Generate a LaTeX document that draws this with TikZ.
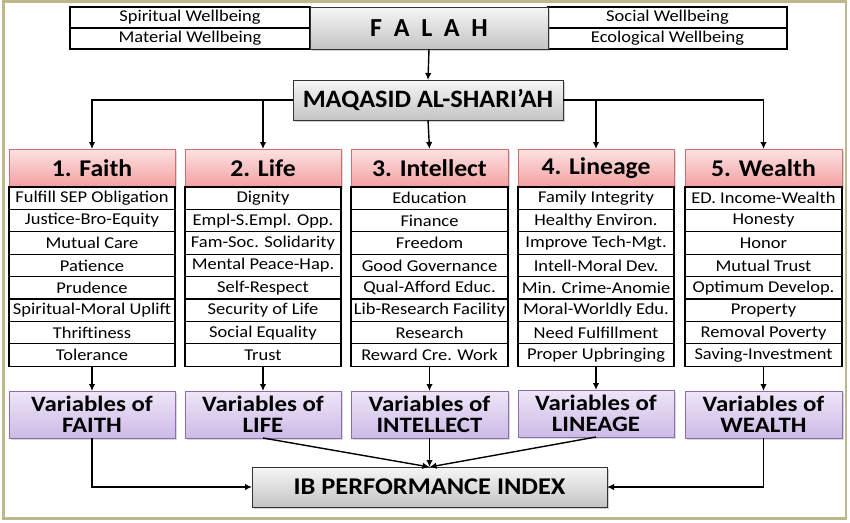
\documentclass[tikz,border=0pt]{standalone}
\usepackage{fontspec}
\setmainfont{Carlito}
\newfontfamily\itemfont[FakeStretch=1.12]{Carlito}
\newfontfamily\headfont[FakeStretch=1.07]{Carlito}
\newfontfamily\varfont[FakeStretch=1.13]{Carlito}
\newfontfamily\maqfont[FakeStretch=1.05]{Carlito}
\newfontfamily\ibfont[FakeStretch=1.1]{Carlito}
\usetikzlibrary{arrows.meta,shadows}
\definecolor{frame}{RGB}{190,182,140}
\definecolor{headtop}{RGB}{252,226,226}
\definecolor{headbot}{RGB}{242,160,160}
\definecolor{headline}{RGB}{205,110,110}
\definecolor{vartop}{RGB}{238,230,248}
\definecolor{varbot}{RGB}{204,186,230}
\definecolor{varline}{RGB}{140,110,175}
\definecolor{graytop}{RGB}{246,246,246}
\definecolor{graybot}{RGB}{196,196,196}
\tikzset{
  every node/.style={inner sep=0pt, outer sep=0pt},
  cellbox/.style={draw=black, line width=1.1pt, fill=white, font=\itemfont\fontsize{16.5}{17}\selectfont},
  headbox/.style={draw=headline, line width=0.9pt, top color=headtop, bottom color=headbot,
     font=\headfont\fontsize{24}{25}\selectfont\bfseries,
     drop shadow={shadow xshift=1.5pt, shadow yshift=-1.5pt, opacity=0.3, fill=gray}},
  varbox/.style={draw=varline, line width=0.9pt, top color=vartop, bottom color=varbot,
     align=center, font=\varfont\fontsize{22}{21.5}\selectfont\bfseries,
     drop shadow={shadow xshift=1.5pt, shadow yshift=-1.5pt, opacity=0.3, fill=gray}},
  graybox/.style={draw=black!80, line width=1pt, top color=graytop, bottom color=graybot,
     drop shadow={shadow xshift=2pt, shadow yshift=-2pt, opacity=0.35, fill=gray}},
  conn/.style={line width=1.4pt, -{Latex[length=7pt,width=6.5pt]}},
}
\begin{document}
\begin{tikzpicture}[x=1pt,y=-1pt]
\useasboundingbox (0,0) rectangle (850,522);
\draw[frame, line width=2.2pt] (3.5,1.5) rectangle (846,518.5);

% top row
\node[cellbox, minimum width=240pt, minimum height=21pt] (sw) at (190,17.5) {Spiritual Wellbeing};
\node[cellbox, minimum width=240pt, minimum height=21pt] (mw) at (190,38.5) {Material Wellbeing};
\node[cellbox, minimum width=239pt, minimum height=21pt] (sow) at (667.5,17.5) {Social Wellbeing};
\node[cellbox, minimum width=239pt, minimum height=21pt] (ew) at (667.5,38.5) {Ecological Wellbeing};
\node[graybox, minimum width=238pt, minimum height=42pt, font=\fontsize{26}{27}\selectfont\bfseries] (falah) at (429,28)
  {F\hspace{0.45em}A\hspace{0.45em}L\hspace{0.45em}A\hspace{0.45em}H};

\node[graybox, minimum width=270pt, minimum height=40pt, font=\maqfont\fontsize{25}{26}\selectfont\bfseries] (maq) at (428,100) {MAQASID AL-SHARI’AH};

% headings
\node[headbox, minimum width=166pt, minimum height=38pt] (h1) at (92,168) {1. Faith};
\node[headbox, minimum width=156pt, minimum height=38pt] (h2) at (263,168) {2. Life};
\node[headbox, minimum width=157pt, minimum height=38pt] (h3) at (429.5,168) {3. Intellect};
\node[headbox, minimum width=156pt, minimum height=38pt] (h4) at (596,168) {4. Lineage};
\node[headbox, minimum width=157pt, minimum height=38pt] (h5) at (763.5,168) {5. Wealth};

% items
\foreach \t [count=\i from 0] in {Fulfill SEP Obligation,Justice-Bro-Equity,Mutual Care,Patience,Prudence,Spiritual-Moral Uplift,Thriftiness,Tolerance}
  \node[cellbox, minimum width=166pt, minimum height=22.4pt] (a\i) at (92,198.2+22.4*\i) {\t};
\foreach \t [count=\i from 0] in {Dignity,Empl-S.Empl. Opp.,Fam-Soc. Solidarity,Mental Peace-Hap.,Self-Respect,Security of Life,Social Equality,Trust}
  \node[cellbox, minimum width=156pt, minimum height=22.4pt] (b\i) at (263,198.2+22.4*\i) {\t};
\foreach \t [count=\i from 0] in {Education,Finance,Freedom,Good Governance,Qual-Afford Educ.,Lib-Research Facility,Research,Reward Cre. Work}
  \node[cellbox, minimum width=157pt, minimum height=22.4pt] (c\i) at (429.5,198.2+22.4*\i) {\t};
\foreach \t [count=\i from 0] in {Family Integrity,Healthy Environ.,Improve Tech-Mgt.,Intell-Moral Dev.,Min. Crime-Anomie,Moral-Worldly Edu.,Need Fulfillment,Proper Upbringing}
  \node[cellbox, minimum width=156pt, minimum height=22.4pt] (d\i) at (596,198.2+22.4*\i) {\t};
\foreach \t [count=\i from 0] in {ED. Income-Wealth,Honesty,Honor,Mutual Trust,Optimum Develop.,Property,Removal Poverty,Saving-Investment}
  \node[cellbox, minimum width=157pt, minimum height=22.4pt] (e\i) at (763.5,198.2+22.4*\i) {\t};

% variables
\node[varbox, minimum width=166pt, minimum height=47pt] (v1) at (92,414.5) {Variables of\\FAITH};
\node[varbox, minimum width=156pt, minimum height=47pt] (v2) at (263,414.5) {Variables of\\LIFE};
\node[varbox, minimum width=157pt, minimum height=47pt] (v3) at (429.5,414.5) {Variables of\\INTELLECT};
\node[varbox, minimum width=156pt, minimum height=47pt] (v4) at (596,413.5) {Variables of\\LINEAGE};
\node[varbox, minimum width=157pt, minimum height=47pt] (v5) at (763.5,414.5) {Variables of\\WEALTH};

\node[graybox, minimum width=355pt, minimum height=40pt, font=\ibfont\fontsize{24}{25}\selectfont\bfseries] (ib) at (429.5,487) {IB PERFORMANCE INDEX};

% connectors
\draw[conn] (falah.south) -- (maq.north);
\draw[conn] (maq.west) -| (h1.north);
\draw[conn] (h2.north |- maq.west) -- (h2.north);
\draw[conn] (maq.south) -- (h3.north);
\draw[conn] (maq.east) -| (h5.north);
\draw[conn] (h4.north |- maq.east) -- (h4.north);

\draw[conn] (a7.south) -- (v1.north);
\draw[conn] (b7.south) -- (v2.north);
\draw[conn] (c7.south) -- (v3.north);
\draw[conn] (d7.south) -- (v4.north);
\draw[conn] (e7.south) -- (v5.north);

\draw[conn] (v1.south) |- (ib.west);
\draw[conn] (v5.south) |- (ib.east);
\draw[conn] (v2.south) -- (ib.north);
\draw[conn] (v3.south) -- (ib.north);
\draw[conn] (v4.south) -- (ib.north);
\end{tikzpicture}
\end{document}
